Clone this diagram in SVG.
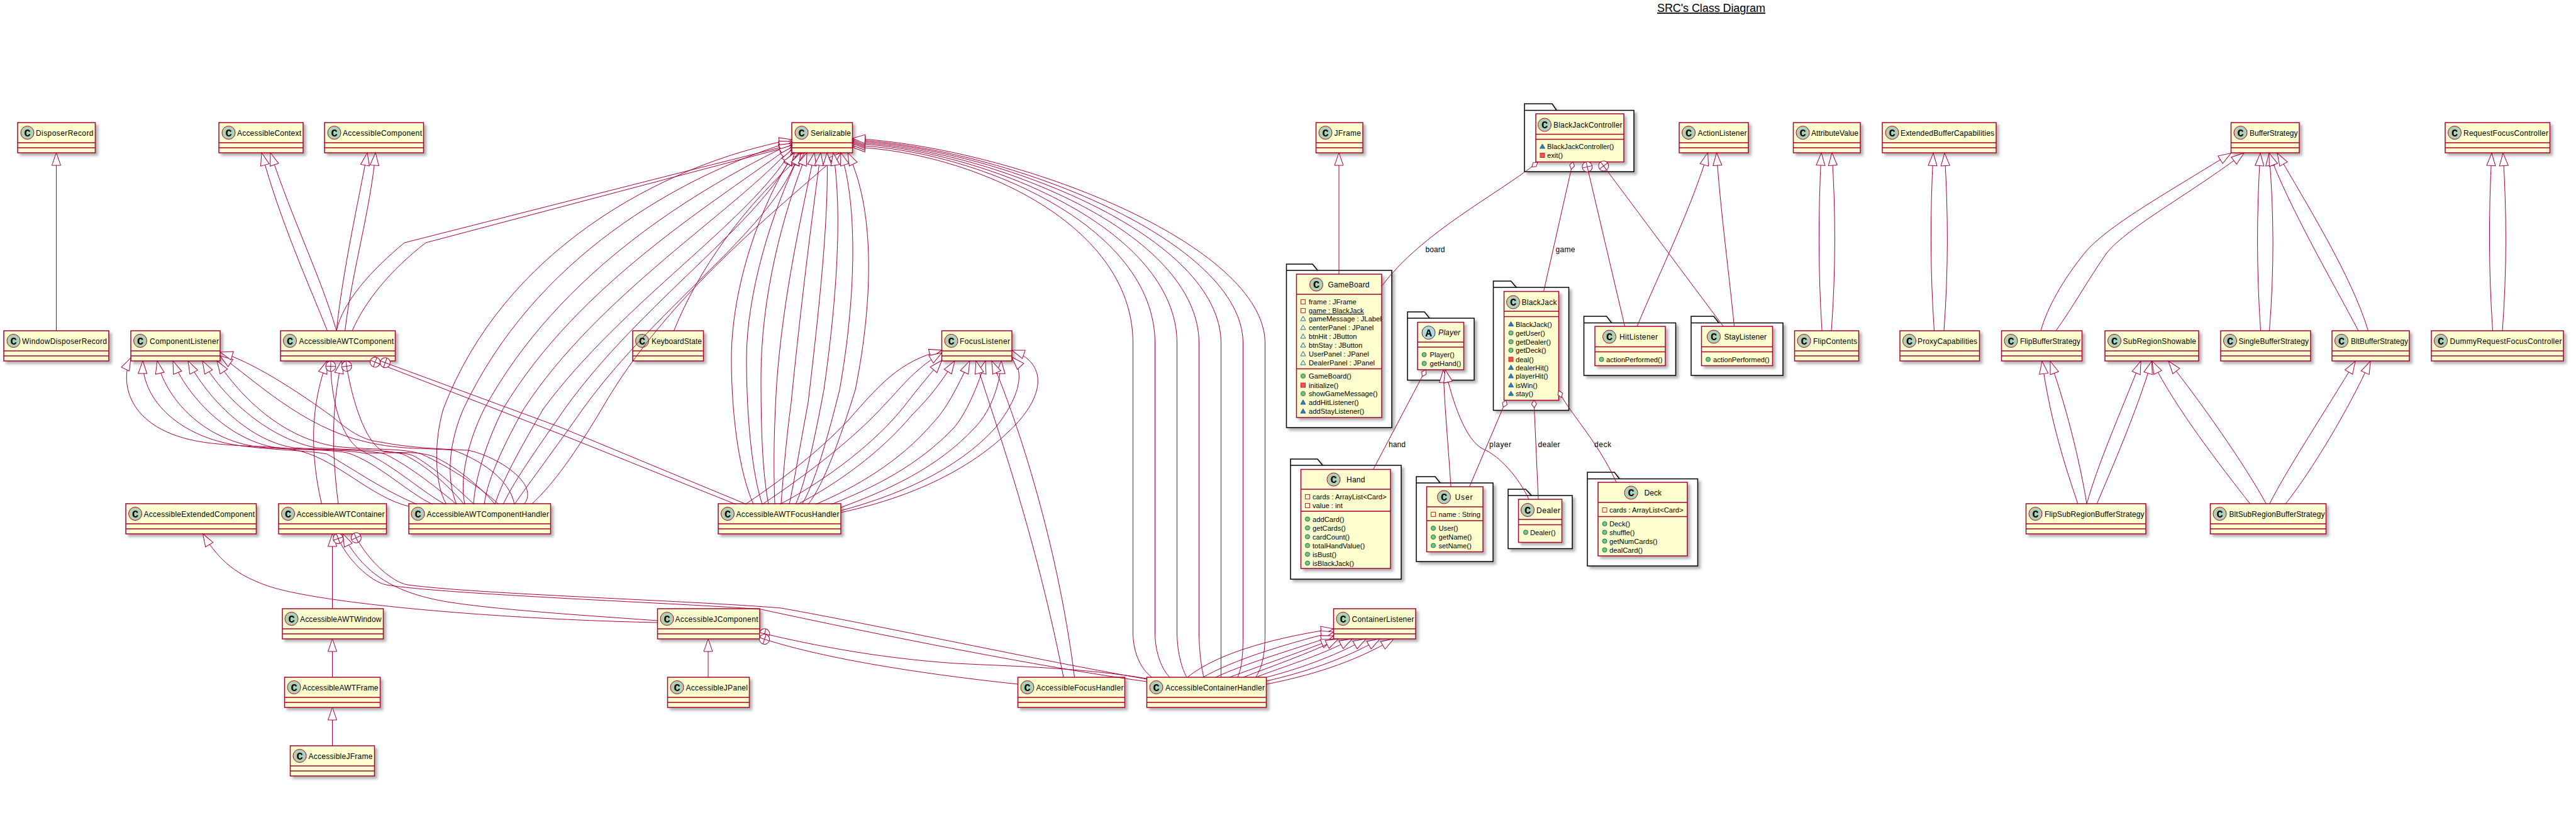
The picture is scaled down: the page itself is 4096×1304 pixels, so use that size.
<svg xmlns="http://www.w3.org/2000/svg" width="4096" height="1304" viewBox="0 0 4096 1304">
<style>
text{font-family:"Liberation Sans",Arial,sans-serif;font-size:11.2px;fill:#000;stroke:none}
text[textLength]{font-size:12px}
.b{fill:#FEFECE;stroke:#A80036;stroke-width:1.5;filter:url(#sh)}
.d{fill:none;stroke:#A80036;stroke-width:1.5}
.ci{fill:#ADD1B2;stroke:#A80036;stroke-width:1}
.ca{fill:#A9DCDF;stroke:#A80036;stroke-width:1}
.cl{font-family:"Liberation Mono",monospace;font-size:17px;font-weight:bold;text-anchor:middle}
.pk{fill:#fff;stroke:#000;stroke-width:1.5;filter:url(#sh)}
.e{fill:none;stroke:#A80036;stroke-width:1}
.x{marker-start:url(#ext)}
.n{marker-start:url(#nest)}
.a{marker-start:url(#agg)}
</style>
<defs>
<filter id="sh" x="-15%" y="-25%" width="140%" height="170%"><feDropShadow dx="4" dy="4" stdDeviation="2.2" flood-color="#000" flood-opacity="0.3"/></filter>
<marker id="ext" markerUnits="userSpaceOnUse" markerWidth="30" markerHeight="30" overflow="visible" orient="auto"><polygon points="0,0 20,-7 20,7" fill="#fff" stroke="#A80036"/></marker>
<marker id="nest" markerUnits="userSpaceOnUse" markerWidth="30" markerHeight="30" overflow="visible" orient="auto"><circle cx="8" cy="0" r="8" fill="#fff" stroke="#A80036"/><path d="M0,0H16M8,-8V8" fill="none" stroke="#A80036"/></marker>
<marker id="agg" markerUnits="userSpaceOnUse" markerWidth="30" markerHeight="30" overflow="visible" orient="auto"><polygon points="0,0 6,-4 12,0 6,4" fill="#fff" stroke="#A80036"/></marker>
<rect id="pf" x="-3.5" y="-3.5" width="7" height="7" fill="none" stroke="#C82930"/>
<rect id="pm" x="-3.5" y="-3.5" width="7" height="7" fill="#F24D5C" stroke="#C82930"/>
<polygon id="tf" points="0,-4 4,3 -4,3" fill="none" stroke="#1963A0"/>
<polygon id="tm" points="0,-4 4,3 -4,3" fill="#4177AF" stroke="#1963A0"/>
<circle id="cm" r="3.5" fill="#84BE84" stroke="#038048"/>
</defs>

<text id="title" x="2635" y="19" textLength="172" style="font-size:18px;text-decoration:underline">SRC's Class Diagram</text>

<g id="DisposerRecord"><rect class="b" x="28" y="195" width="123.5" height="48"/><path class="d" d="M28,227H151.5M28,235H151.5"/><circle class="ci" cx="43.5" cy="211" r="10.5"/><text class="cl" x="43.5" y="216.5">C</text><text x="57" y="215.5" textLength="91.5">DisposerRecord</text></g>
<g id="AccessibleContext"><rect class="b" x="348" y="195" width="134" height="48"/><path class="d" d="M348,227H482M348,235H482"/><circle class="ci" cx="363.5" cy="211" r="10.5"/><text class="cl" x="363.5" y="216.5">C</text><text x="377" y="215.5" textLength="102">AccessibleContext</text></g>
<g id="AccessibleComponent"><rect class="b" x="516" y="195" width="157.5" height="48"/><path class="d" d="M516,227H673.5M516,235H673.5"/><circle class="ci" cx="531.5" cy="211" r="10.5"/><text class="cl" x="531.5" y="216.5">C</text><text x="545" y="215.5" textLength="126">AccessibleComponent</text></g>
<g id="Serializable"><rect class="b" x="1259" y="195" width="96.5" height="48"/><path class="d" d="M1259,227H1355.5M1259,235H1355.5"/><circle class="ci" cx="1274.5" cy="211" r="10.5"/><text class="cl" x="1274.5" y="216.5">C</text><text x="1289" y="215.5" textLength="64">Serializable</text></g>
<g id="JFrame"><rect class="b" x="2092.5" y="195" width="74.5" height="48"/><path class="d" d="M2092.5,227H2167M2092.5,235H2167"/><circle class="ci" cx="2107.5" cy="211" r="10.5"/><text class="cl" x="2107.5" y="216.5">C</text><text x="2121.5" y="215.5" textLength="42.5">JFrame</text></g>
<g id="ActionListener"><rect class="b" x="2670" y="195" width="110" height="48"/><path class="d" d="M2670,227H2780M2670,235H2780"/><circle class="ci" cx="2685" cy="211" r="10.5"/><text class="cl" x="2685" y="216.5">C</text><text x="2699.5" y="215.5" textLength="78">ActionListener</text></g>
<g id="AttributeValue"><rect class="b" x="2851.5" y="195" width="106.5" height="48"/><path class="d" d="M2851.5,227H2958M2851.5,235H2958"/><circle class="ci" cx="2866.5" cy="211" r="10.5"/><text class="cl" x="2866.5" y="216.5">C</text><text x="2880" y="215.5" textLength="75">AttributeValue</text></g>
<g id="ExtendedBufferCapabilities"><rect class="b" x="2993" y="195" width="181" height="48"/><path class="d" d="M2993,227H3174M2993,235H3174"/><circle class="ci" cx="3008.5" cy="211" r="10.5"/><text class="cl" x="3008.5" y="216.5">C</text><text x="3022" y="215.5" textLength="149">ExtendedBufferCapabilities</text></g>
<g id="BufferStrategy"><rect class="b" x="3547.5" y="195" width="108.5" height="48"/><path class="d" d="M3547.5,227H3656M3547.5,235H3656"/><circle class="ci" cx="3562.5" cy="211" r="10.5"/><text class="cl" x="3562.5" y="216.5">C</text><text x="3577" y="215.5" textLength="76.5">BufferStrategy</text></g>
<g id="RequestFocusController"><rect class="b" x="3888" y="195" width="166.5" height="48"/><path class="d" d="M3888,227H4054.5M3888,235H4054.5"/><circle class="ci" cx="3903" cy="211" r="10.5"/><text class="cl" x="3903" y="216.5">C</text><text x="3917" y="215.5" textLength="135">RequestFocusController</text></g>

<g id="WindowDisposerRecord"><rect class="b" x="6" y="526" width="167" height="48"/><path class="d" d="M6,558H173M6,566H173"/><circle class="ci" cx="21.5" cy="542" r="10.5"/><text class="cl" x="21.5" y="547.5">C</text><text x="35" y="546.5" textLength="135">WindowDisposerRecord</text></g>
<g id="ComponentListener"><rect class="b" x="208" y="526" width="142" height="48"/><path class="d" d="M208,558H350M208,566H350"/><circle class="ci" cx="223" cy="542" r="10.5"/><text class="cl" x="223" y="547.5">C</text><text x="238" y="546.5" textLength="110">ComponentListener</text></g>
<g id="AccessibleAWTComponent"><rect class="b" x="446" y="526" width="182.5" height="48"/><path class="d" d="M446,558H628.5M446,566H628.5"/><circle class="ci" cx="461" cy="542" r="10.5"/><text class="cl" x="461" y="547.5">C</text><text x="475.5" y="546.5" textLength="150.5">AccessibleAWTComponent</text></g>
<g id="KeyboardState"><rect class="b" x="1006" y="526" width="112.5" height="48"/><path class="d" d="M1006,558H1118.5M1006,566H1118.5"/><circle class="ci" cx="1021" cy="542" r="10.5"/><text class="cl" x="1021" y="547.5">C</text><text x="1036" y="546.5" textLength="80">KeyboardState</text></g>
<g id="FocusListener"><rect class="b" x="1497.5" y="526" width="111.5" height="48"/><path class="d" d="M1497.5,558H1609M1497.5,566H1609"/><circle class="ci" cx="1512.5" cy="542" r="10.5"/><text class="cl" x="1512.5" y="547.5">C</text><text x="1526" y="546.5" textLength="80">FocusListener</text></g>
<g id="FlipContents"><rect class="b" x="2853.5" y="526" width="102" height="48"/><path class="d" d="M2853.5,558H2955.5M2853.5,566H2955.5"/><circle class="ci" cx="2868.5" cy="542" r="10.5"/><text class="cl" x="2868.5" y="547.5">C</text><text x="2883" y="546.5" textLength="70">FlipContents</text></g>
<g id="ProxyCapabilities"><rect class="b" x="3021" y="526" width="126.5" height="48"/><path class="d" d="M3021,558H3147.5M3021,566H3147.5"/><circle class="ci" cx="3036" cy="542" r="10.5"/><text class="cl" x="3036" y="547.5">C</text><text x="3049" y="546.5" textLength="95">ProxyCapabilities</text></g>
<g id="FlipBufferStrategy"><rect class="b" x="3182.5" y="526" width="128" height="48"/><path class="d" d="M3182.5,558H3310.5M3182.5,566H3310.5"/><circle class="ci" cx="3197.5" cy="542" r="10.5"/><text class="cl" x="3197.5" y="547.5">C</text><text x="3212" y="546.5" textLength="96">FlipBufferStrategy</text></g>
<g id="SubRegionShowable"><rect class="b" x="3347" y="526" width="149" height="48"/><path class="d" d="M3347,558H3496M3347,566H3496"/><circle class="ci" cx="3362" cy="542" r="10.5"/><text class="cl" x="3362" y="547.5">C</text><text x="3375.5" y="546.5" textLength="116.5">SubRegionShowable</text></g>
<g id="SingleBufferStrategy"><rect class="b" x="3531" y="526" width="143" height="48"/><path class="d" d="M3531,558H3674M3531,566H3674"/><circle class="ci" cx="3546" cy="542" r="10.5"/><text class="cl" x="3546" y="547.5">C</text><text x="3559.5" y="546.5" textLength="111.5">SingleBufferStrategy</text></g>
<g id="BltBufferStrategy"><rect class="b" x="3708" y="526" width="123" height="48"/><path class="d" d="M3708,558H3831M3708,566H3831"/><circle class="ci" cx="3723" cy="542" r="10.5"/><text class="cl" x="3723" y="547.5">C</text><text x="3738" y="546.5" textLength="91">BltBufferStrategy</text></g>
<g id="DummyRequestFocusController"><rect class="b" x="3866" y="526" width="210" height="48"/><path class="d" d="M3866,558H4076M3866,566H4076"/><circle class="ci" cx="3881" cy="542" r="10.5"/><text class="cl" x="3881" y="547.5">C</text><text x="3895.5" y="546.5" textLength="178">DummyRequestFocusController</text></g>

<g id="AccessibleExtendedComponent"><rect class="b" x="200" y="801" width="207.5" height="48"/><path class="d" d="M200,833H407.5M200,841H407.5"/><circle class="ci" cx="215" cy="817" r="10.5"/><text class="cl" x="215" y="822.5">C</text><text x="228.5" y="821.5" textLength="176.5">AccessibleExtendedComponent</text></g>
<g id="AccessibleAWTContainer"><rect class="b" x="443" y="801" width="171.5" height="48"/><path class="d" d="M443,833H614.5M443,841H614.5"/><circle class="ci" cx="458" cy="817" r="10.5"/><text class="cl" x="458" y="822.5">C</text><text x="471.5" y="821.5" textLength="140">AccessibleAWTContainer</text></g>
<g id="AccessibleAWTComponentHandler"><rect class="b" x="650" y="801" width="225.5" height="48"/><path class="d" d="M650,833H875.5M650,841H875.5"/><circle class="ci" cx="664.5" cy="817" r="10.5"/><text class="cl" x="664.5" y="822.5">C</text><text x="678.5" y="821.5" textLength="194.5">AccessibleAWTComponentHandler</text></g>
<g id="AccessibleAWTFocusHandler"><rect class="b" x="1142" y="801" width="195" height="48"/><path class="d" d="M1142,833H1337M1142,841H1337"/><circle class="ci" cx="1157" cy="817" r="10.5"/><text class="cl" x="1157" y="822.5">C</text><text x="1170.5" y="821.5" textLength="164">AccessibleAWTFocusHandler</text></g>
<g id="FlipSubRegionBufferStrategy"><rect class="b" x="3221.5" y="801" width="190.5" height="48"/><path class="d" d="M3221.5,833H3412M3221.5,841H3412"/><circle class="ci" cx="3236.5" cy="817" r="10.5"/><text class="cl" x="3236.5" y="822.5">C</text><text x="3251" y="821.5" textLength="158.5">FlipSubRegionBufferStrategy</text></g>
<g id="BltSubRegionBufferStrategy"><rect class="b" x="3514.5" y="801" width="184" height="48"/><path class="d" d="M3514.5,833H3698.5M3514.5,841H3698.5"/><circle class="ci" cx="3529.5" cy="817" r="10.5"/><text class="cl" x="3529.5" y="822.5">C</text><text x="3544.5" y="821.5" textLength="152">BltSubRegionBufferStrategy</text></g>

<g id="AccessibleAWTWindow"><rect class="b" x="449" y="968" width="160.5" height="48"/><path class="d" d="M449,1000H609.5M449,1008H609.5"/><circle class="ci" cx="463.5" cy="984" r="10.5"/><text class="cl" x="463.5" y="989.5">C</text><text x="477" y="988.5" textLength="129.5">AccessibleAWTWindow</text></g>
<g id="AccessibleJComponent"><rect class="b" x="1045.5" y="968" width="162.5" height="48"/><path class="d" d="M1045.5,1000H1208M1045.5,1008H1208"/><circle class="ci" cx="1060.5" cy="984" r="10.5"/><text class="cl" x="1060.5" y="989.5">C</text><text x="1073.5" y="988.5" textLength="132">AccessibleJComponent</text></g>
<g id="ContainerListener"><rect class="b" x="2120.5" y="968" width="130.5" height="48"/><path class="d" d="M2120.5,1000H2251M2120.5,1008H2251"/><circle class="ci" cx="2135.5" cy="984" r="10.5"/><text class="cl" x="2135.5" y="989.5">C</text><text x="2149.5" y="988.5" textLength="99">ContainerListener</text></g>

<g id="AccessibleAWTFrame"><rect class="b" x="452.5" y="1077" width="152" height="48"/><path class="d" d="M452.5,1109H604.5M452.5,1117H604.5"/><circle class="ci" cx="467.5" cy="1093" r="10.5"/><text class="cl" x="467.5" y="1098.5">C</text><text x="480.5" y="1097.5" textLength="121">AccessibleAWTFrame</text></g>
<g id="AccessibleJPanel"><rect class="b" x="1061.5" y="1077" width="130" height="48"/><path class="d" d="M1061.5,1109H1191.5M1061.5,1117H1191.5"/><circle class="ci" cx="1076.5" cy="1093" r="10.5"/><text class="cl" x="1076.5" y="1098.5">C</text><text x="1090.5" y="1097.5" textLength="98.5">AccessibleJPanel</text></g>
<g id="AccessibleFocusHandler"><rect class="b" x="1618.5" y="1077" width="170" height="48"/><path class="d" d="M1618.5,1109H1788.5M1618.5,1117H1788.5"/><circle class="ci" cx="1633.5" cy="1093" r="10.5"/><text class="cl" x="1633.5" y="1098.5">C</text><text x="1647.5" y="1097.5" textLength="139">AccessibleFocusHandler</text></g>
<g id="AccessibleContainerHandler"><rect class="b" x="1823.5" y="1077" width="190" height="48"/><path class="d" d="M1823.5,1109H2013.5M1823.5,1117H2013.5"/><circle class="ci" cx="1838.5" cy="1093" r="10.5"/><text class="cl" x="1838.5" y="1098.5">C</text><text x="1853" y="1097.5" textLength="158">AccessibleContainerHandler</text></g>
<g id="AccessibleJFrame"><rect class="b" x="461.5" y="1186" width="134" height="48"/><path class="d" d="M461.5,1218H595.5M461.5,1226H595.5"/><circle class="ci" cx="476.5" cy="1202" r="10.5"/><text class="cl" x="476.5" y="1207.5">C</text><text x="490.5" y="1206.5" textLength="102">AccessibleJFrame</text></g>

<g id="pkg-BlackJackController"><path class="pk" d="M2424,175.5V165H2468L2475,175.5H2598V273H2424Z"/><path class="d" style="stroke:#000" d="M2424,175.5H2475"/>
<g id="BlackJackController"><rect class="b" x="2442" y="181" width="140" height="76.5"/><path class="d" d="M2442,213.5H2582M2442,221.5H2582"/><circle class="ci" cx="2456" cy="198.5" r="10.5"/><text class="cl" x="2456" y="204">C</text><text x="2470" y="203" textLength="109.5">BlackJackController</text>
<use href="#tm" x="2452.5" y="233"/><text x="2460" y="237">BlackJackController()</text><use href="#pm" x="2452.5" y="247"/><text x="2460" y="251">exit()</text></g></g>

<g id="pkg-GameBoard"><path class="pk" d="M2045.5,430V420H2087L2095,430H2213V680H2045.5Z"/><path class="d" style="stroke:#000" d="M2045.5,430H2095"/>
<g id="GameBoard"><rect class="b" x="2061.5" y="436" width="135.5" height="228"/><path class="d" d="M2061.5,468H2197M2061.5,586.5H2197"/><circle class="ci" cx="2093" cy="452.5" r="10.5"/><text class="cl" x="2093" y="458">C</text><text x="2111.5" y="457" textLength="66">GameBoard</text>
<use href="#pf" x="2072" y="480"/><text x="2081" y="484">frame : JFrame</text>
<use href="#pf" x="2072" y="494"/><text x="2081" y="498" style="text-decoration:underline">game : BlackJack</text>
<use href="#tf" x="2072" y="507"/><text x="2081" y="511">gameMessage : JLabel</text>
<use href="#tf" x="2072" y="521"/><text x="2081" y="525">centerPanel : JPanel</text>
<use href="#tf" x="2072" y="535"/><text x="2081" y="539">btnHit : JButton</text>
<use href="#tf" x="2072" y="549"/><text x="2081" y="553">btnStay : JButton</text>
<use href="#tf" x="2072" y="563"/><text x="2081" y="567">UserPanel : JPanel</text>
<use href="#tf" x="2072" y="577"/><text x="2081" y="581">DealerPanel : JPanel</text>
<use href="#cm" x="2072" y="598"/><text x="2081" y="602">GameBoard()</text>
<use href="#pm" x="2072" y="612.5"/><text x="2081" y="616.5">initialize()</text>
<use href="#cm" x="2072" y="626"/><text x="2081" y="630">showGameMessage()</text>
<use href="#tm" x="2072" y="640"/><text x="2081" y="644">addHitListener()</text>
<use href="#tm" x="2072" y="654"/><text x="2081" y="658">addStayListener()</text></g></g>

<g id="pkg-Player"><path class="pk" d="M2238,506V496H2265L2273,506H2344V604.5H2238Z"/><path class="d" style="stroke:#000" d="M2238,506H2273"/>
<g id="Player"><rect class="b" x="2254" y="512.5" width="73.5" height="75.5"/><path class="d" d="M2254,544H2327.5M2254,552H2327.5"/><circle class="ca" cx="2271.5" cy="529" r="10.5"/><text class="cl" x="2271.5" y="534.5">A</text><text x="2287" y="533" textLength="35" font-style="italic">Player</text>
<use href="#cm" x="2264.5" y="564"/><text x="2273.5" y="568">Player()</text><use href="#cm" x="2264.5" y="578"/><text x="2273.5" y="582">getHand()</text></g></g>

<g id="pkg-BlackJack"><path class="pk" d="M2374.5,457V447H2402.5L2411,457H2494.5V652.5H2374.5Z"/><path class="d" style="stroke:#000" d="M2374.5,457H2411"/>
<g id="BlackJack"><rect class="b" x="2391.5" y="463.5" width="87" height="173"/><path class="d" d="M2391.5,495H2478.5M2391.5,503.5H2478.5"/><circle class="ci" cx="2406" cy="480.5" r="10.5"/><text class="cl" x="2406" y="486">C</text><text x="2419.5" y="485" textLength="56">BlackJack</text>
<use href="#tm" x="2402.5" y="515.5"/><text x="2410" y="519.5">BlackJack()</text>
<use href="#cm" x="2402.5" y="529.5"/><text x="2410" y="533.5">getUser()</text>
<use href="#cm" x="2402.5" y="543.5"/><text x="2410" y="547.5">getDealer()</text>
<use href="#cm" x="2402.5" y="557"/><text x="2410" y="561">getDeck()</text>
<use href="#pm" x="2402.5" y="571.5"/><text x="2410" y="575.5">deal()</text>
<use href="#tm" x="2402.5" y="584.5"/><text x="2410" y="588.5">dealerHit()</text>
<use href="#tm" x="2402.5" y="598"/><text x="2410" y="602">playerHit()</text>
<use href="#tm" x="2402.5" y="612.5"/><text x="2410" y="616.5">isWin()</text>
<use href="#tm" x="2402.5" y="626"/><text x="2410" y="630">stay()</text></g></g>

<g id="pkg-HitListener"><path class="pk" d="M2518.5,513.5V503H2554.5L2562.5,513.5H2664.5V597H2518.5Z"/><path class="d" style="stroke:#000" d="M2518.5,513.5H2562.5"/>
<g id="HitListener"><rect class="b" x="2536" y="519" width="112" height="62.5"/><path class="d" d="M2536,551.5H2648M2536,559.5H2648"/><circle class="ci" cx="2559" cy="535.5" r="10.5"/><text class="cl" x="2559" y="541">C</text><text x="2575" y="540" textLength="61">HitListener</text>
<use href="#cm" x="2546.5" y="571.5"/><text x="2554" y="575.5">actionPerformed()</text></g></g>

<g id="pkg-StayListener"><path class="pk" d="M2689,513.5V503H2725L2733,513.5H2835V597H2689Z"/><path class="d" style="stroke:#000" d="M2689,513.5H2733"/>
<g id="StayListener"><rect class="b" x="2705.5" y="519" width="113" height="62.5"/><path class="d" d="M2705.5,551.5H2818.5M2705.5,559.5H2818.5"/><circle class="ci" cx="2725" cy="535.5" r="10.5"/><text class="cl" x="2725" y="541">C</text><text x="2741.5" y="540" textLength="67.5">StayListener</text>
<use href="#cm" x="2716" y="571.5"/><text x="2724" y="575.5">actionPerformed()</text></g></g>

<g id="pkg-Hand"><path class="pk" d="M2052,740V730H2095L2103,740H2228V921H2052Z"/><path class="d" style="stroke:#000" d="M2052,740H2103"/>
<g id="Hand"><rect class="b" x="2068.5" y="746.5" width="142.5" height="157.5"/><path class="d" d="M2068.5,778H2211M2068.5,813H2211"/><circle class="ci" cx="2120.5" cy="762.5" r="10.5"/><text class="cl" x="2120.5" y="768">C</text><text x="2141" y="767" textLength="29.5">Hand</text>
<use href="#pf" x="2079" y="790"/><text x="2087" y="794">cards : ArrayList&lt;Card&gt;</text>
<use href="#pf" x="2079" y="804"/><text x="2087" y="808">value : int</text>
<use href="#cm" x="2079" y="825.5"/><text x="2087" y="829.5">addCard()</text>
<use href="#cm" x="2079" y="839.5"/><text x="2087" y="843.5">getCards()</text>
<use href="#cm" x="2079" y="853.5"/><text x="2087" y="857.5">cardCount()</text>
<use href="#cm" x="2079" y="867.5"/><text x="2087" y="871.5">totalHandValue()</text>
<use href="#cm" x="2079" y="881.5"/><text x="2087" y="885.5">isBust()</text>
<use href="#cm" x="2079" y="895.5"/><text x="2087" y="899.5">isBlackJack()</text></g></g>

<g id="pkg-User"><path class="pk" d="M2252,768V758H2282L2290,768H2374V893H2252Z"/><path class="d" style="stroke:#000" d="M2252,768H2290"/>
<g id="User"><rect class="b" x="2268.5" y="774" width="89.5" height="103.5"/><path class="d" d="M2268.5,806H2358M2268.5,828H2358"/><circle class="ci" cx="2296" cy="790.5" r="10.5"/><text class="cl" x="2296" y="796">C</text><text x="2313.5" y="795" textLength="28">User</text>
<use href="#pf" x="2279" y="818"/><text x="2287.5" y="822">name : String</text>
<use href="#cm" x="2279" y="840"/><text x="2287.5" y="844">User()</text>
<use href="#cm" x="2279" y="854"/><text x="2287.5" y="858">getName()</text>
<use href="#cm" x="2279" y="867.5"/><text x="2287.5" y="871.5">setName()</text></g></g>

<g id="pkg-Dealer"><path class="pk" d="M2398,788V778H2426L2435,788H2500V872.5H2398Z"/><path class="d" style="stroke:#000" d="M2398,788H2435"/>
<g id="Dealer"><rect class="b" x="2414.5" y="794" width="69" height="68.5"/><path class="d" d="M2414.5,826H2483.5M2414.5,834.5H2483.5"/><circle class="ci" cx="2429" cy="811" r="10.5"/><text class="cl" x="2429" y="816.5">C</text><text x="2443" y="815.5" textLength="38">Dealer</text>
<use href="#cm" x="2426" y="846.5"/><text x="2433" y="850.5">Dealer()</text></g></g>

<g id="pkg-Deck"><path class="pk" d="M2524,761.5V751H2567L2575,761.5H2699.5V900H2524Z"/><path class="d" style="stroke:#000" d="M2524,761.5H2575"/>
<g id="Deck"><rect class="b" x="2541" y="767" width="142" height="117"/><path class="d" d="M2541,799H2683M2541,821.5H2683"/><circle class="ci" cx="2593.5" cy="783.5" r="10.5"/><text class="cl" x="2593.5" y="789">C</text><text x="2614.5" y="788" textLength="27.5">Deck</text>
<use href="#pf" x="2551.5" y="811"/><text x="2559" y="815">cards : ArrayList&lt;Card&gt;</text>
<use href="#cm" x="2551.5" y="833"/><text x="2559" y="837">Deck()</text>
<use href="#cm" x="2551.5" y="846.5"/><text x="2559" y="850.5">shuffle()</text>
<use href="#cm" x="2551.5" y="860.5"/><text x="2559" y="864.5">getNumCards()</text>
<use href="#cm" x="2551.5" y="874.5"/><text x="2559" y="878.5">dealCard()</text></g></g>

<g id="connectors" class="e">
<g id="simple">
<path class="x" d="M89.5,243V526"/>
<path class="x" d="M416,243C445,350 490,450 520.5,526"/>
<path class="x" d="M430,243C465,350 510,440 535,526"/>
<path class="x" d="M584,243C570,320 545,430 535,526"/>
<path class="x" d="M597,243C590,330 560,430 548.5,526"/>
<path class="x" d="M528.5,849V968"/>
<path class="x" d="M528.5,1016V1077"/>
<path class="x" d="M528.5,1125V1186"/>
<path class="x" d="M1126,1016V1077"/>
<path class="x" d="M2129,243V436"/>
<path class="x" d="M520,574C500,630 488,700 511.5,802"/>
<path class="x" d="M543,574C530,640 525,700 538,802"/>
<path class="x" d="M1279,243C1180,330 1110,430 1071.5,526"/>
</g>
<g id="component-listener">
<path class="x" d="M208,569C190,606 200,690 337,705C400,712 440,708 480,718C540,735 590,790 649,805"/>
<path class="x" d="M227,574C226,640 290,695 377,708C430,716 490,716 520,722C560,745 610,780 663,802"/>
<path class="x" d="M250,574C262,630 320,700 413,711C470,716 520,714 552,720C600,735 650,785 688,802"/>
<path class="x" d="M275,574C295,625 360,700 440,712C500,716 550,714 585,722C625,740 675,785 708,802"/>
<path class="x" d="M299,574C325,625 390,700 467,712C520,716 580,714 612,722C650,740 700,780 726,802"/>
<path class="x" d="M322,574C350,625 420,695 502,712C560,716 610,714 640,722C680,740 720,780 738,802"/>
<path class="x" d="M345,574C375,620 440,695 534,710C590,716 640,712 670,722C720,745 770,780 793,802"/>
<path class="x" d="M350,566C400,600 480,680 583,703C640,716 680,712 721,716C760,730 810,760 818,802"/>
<path class="x" d="M350,560C400,575 470,620 529,663C560,690 580,700 605,703C650,712 700,714 744,716C790,725 860,770 833,802"/>
</g>
<g id="serializable-handler">
<path class="x" d="M1259,230L1100,270L643,386C590,430 545,480 535,526"/>
<path class="x" d="M1259,232L677,386C620,430 580,480 560,526"/>
<path class="x" d="M1259,222C1050,262 800,400 705,650C690,700 690,770 710,802"/>
<path class="x" d="M1259,225C1080,280 850,410 737,650C715,700 708,760 726,802"/>
<path class="x" d="M1259,228C1110,300 890,430 770,650C745,700 730,760 739,802"/>
<path class="x" d="M1259,231C1140,320 920,450 800,650C775,700 755,760 753,802"/>
<path class="x" d="M1259,234C1170,335 950,470 833,650C805,700 775,760 770,802"/>
<path class="x" d="M1259,238C1195,350 990,480 864,650C835,700 800,760 787,802"/>
<path class="x" d="M1261,243C1215,350 1020,480 898,650C860,705 820,760 800,802"/>
<path class="x" d="M1270,243C1235,360 1050,480 927,650C885,710 840,770 818,802"/>
<path class="x" d="M1337,243C1240,330 1060,470 957,650C915,720 880,770 845,802"/>
</g>
<g id="serializable-focus">
<path class="x" d="M1263,243C1200,340 1163,470 1163,570C1163,660 1175,750 1198,802"/>
<path class="x" d="M1273,243C1225,340 1187,470 1187,570C1187,660 1195,750 1212,802"/>
<path class="x" d="M1283,243C1245,340 1210,470 1210,600C1210,680 1212,750 1222,802"/>
<path class="x" d="M1295,243C1275,340 1245,470 1235,610C1230,690 1230,750 1232,802"/>
<path class="x" d="M1305,243C1292,340 1275,470 1258,640C1250,700 1245,760 1242,802"/>
<path class="x" d="M1315,243C1318,340 1305,470 1285,640C1272,710 1262,770 1255,802"/>
<path class="x" d="M1325,243C1340,340 1330,480 1310,620C1295,700 1280,770 1265,802"/>
<path class="x" d="M1337,243C1365,330 1360,480 1335,620C1315,700 1295,770 1275,802"/>
<path class="x" d="M1348,243C1390,330 1390,470 1360,620C1335,700 1310,770 1285,802"/>
</g>
<g id="serializable-container">
<path class="x" d="M1355.5,234C1535,240 1801.5,350 1801.5,546V1007C1802,1040 1815,1065 1831.5,1077"/>
<path class="x" d="M1355.5,231C1550,238 1836.5,357 1836.5,546V1007C1837,1040 1848,1065 1860,1077"/>
<path class="x" d="M1355.5,228C1565,238 1871.5,364 1871.5,546V1007C1872,1040 1880,1065 1887,1077"/>
<path class="x" d="M1355.5,226C1578,237 1906.5,370 1906.5,546V1007C1907,1040 1911,1065 1914,1077"/>
<path class="x" d="M1355.5,224C1592,236 1941.5,377 1941.5,546V1077"/>
<path class="x" d="M1355.5,222C1606,236 1976.5,384 1976.5,546V1007C1976.5,1040 1975,1060 1968,1077"/>
<path class="x" d="M1355.5,220C1620,235 2011.5,390 2011.5,546V1007C2011.5,1040 2007,1062 1996.5,1077"/>
</g>
<g id="focus-listener">
<path class="x" d="M1497.5,557C1430,575 1400,610 1350,667C1300,720 1240,765 1185,802"/>
<path class="x" d="M1497.5,561C1450,590 1430,620 1407,643C1360,695 1290,750 1212,802"/>
<path class="x" d="M1497.5,573C1470,605 1450,630 1437,647C1395,700 1320,760 1240,802"/>
<path class="x" d="M1518,574C1495,610 1480,630 1450,660C1400,720 1330,770 1268,802"/>
<path class="x" d="M1542,574C1520,620 1505,650 1483,673C1430,735 1360,775 1297,802"/>
<path class="x" d="M1567,574C1550,630 1530,665 1517,680C1460,740 1390,775 1322,802"/>
<path class="x" d="M1592,574C1590,620 1570,660 1550,680C1490,745 1410,780 1337,807"/>
<path class="x" d="M1609,568C1625,585 1630,620 1583,680C1520,750 1420,790 1337,812"/>
<path class="x" d="M1609,557C1660,575 1665,620 1617,673C1540,755 1430,795 1337,815"/>
<path class="x" d="M1552,574C1570,640 1640,820 1691,1077"/>
<path class="x" d="M1577,574C1610,650 1680,850 1708.5,1077"/>
</g>
<g id="container-listener">
<path class="x" d="M2120.5,1000C2040,1012 1940,1035 1888,1077"/>
<path class="x" d="M2120.5,1005C2040,1025 1960,1050 1913,1077"/>
<path class="x" d="M2120.5,1011C2050,1035 1980,1055 1933,1077"/>
<path class="x" d="M2120.5,1016C2060,1040 2000,1060 1955,1077"/>
<path class="x" d="M2128,1016C2080,1040 2020,1060 1977,1077"/>
<path class="x" d="M2150,1016C2095,1045 2040,1060 1997,1077"/>
<path class="x" d="M2172,1016C2120,1045 2060,1065 2014,1077"/>
<path class="x" d="M2194,1016C2135,1050 2070,1070 2014,1083"/>
<path class="x" d="M2216,1016C2150,1055 2080,1075 2014,1088"/>
</g>
<g id="nesting">
<path class="n" d="M526,574.5C525,625 540,705 582,720C610,722 640,716 660,726C700,750 735,785 754,802"/>
<path class="n" d="M550,574.5C558,630 580,705 610,718C640,722 660,716 690,726C730,745 770,780 787,802"/>
<path class="n" d="M589,573L890,690L1170,802"/>
<path class="n" d="M605,574L890,679L1187,802"/>
<path class="x" d="M545,849C580,920 640,945 711,957C790,970 950,980 1045.5,987"/>
<path class="x" d="M322.5,849C350,895 380,915 421,930C500,960 800,985 1045.5,990"/>
<path class="n" d="M535,849C550,890 590,925 614,930C700,945 1100,960 1210,969C1400,1010 1650,1060 1823.5,1084"/>
<path class="n" d="M563,848C580,885 620,925 648,930C760,945 1100,955 1242,967C1400,995 1650,1050 1823.5,1080"/>
<path class="n" d="M1208,1006C1350,1040 1450,1050 1520,1055C1620,1060 1720,1062 1823.5,1079"/>
<path class="n" d="M1208,1014C1300,1045 1450,1070 1618.5,1088"/>
</g>
<g id="blackjack">
<path class="a" d="M2445,258C2380,310 2260,370 2197,455"/>
<text x="2266.5" y="401" textLength="31">board</text>
<path class="a" d="M2501,257.5L2454.5,463.5"/>
<text x="2473.5" y="401" textLength="31">game</text>
<path class="n" d="M2522,257.5L2583.5,519"/>
<path class="n" d="M2545,257.5L2740,519"/>
<path class="x" d="M2715.5,243C2690,330 2640,430 2603,519"/>
<path class="x" d="M2729.5,243C2735,330 2750,440 2757.5,519"/>
<path class="a" d="M2267,588L2183.5,746.5"/>
<text x="2208" y="711" textLength="27">hand</text>
<path class="x" d="M2295,588C2297,650 2303,710 2307,774"/>
<path class="x" d="M2298,588C2310,640 2330,700 2358,714C2385,725 2415,760 2431,794"/>
<path class="a" d="M2395,636.5L2336.5,774"/>
<text x="2368" y="711" textLength="35">player</text>
<path class="a" d="M2439,636.5L2446,794"/>
<text x="2445.5" y="711" textLength="35">dealer</text>
<path class="a" d="M2478.5,621C2490,650 2540,700 2570,767"/>
<text x="2535" y="711" textLength="27">deck</text>
</g>
<g id="buffers">
<path class="x" d="M2896,243C2891,340 2891,430 2897,526"/>
<path class="x" d="M2913,243C2919,340 2919,430 2912,526"/>
<path class="x" d="M3074,243.5C3069,340 3069,430 3075.5,526"/>
<path class="x" d="M3092,243.5C3098,340 3098,430 3091,526"/>
<path class="x" d="M3547.5,243.5C3440,310 3350,360 3315,402C3280,445 3255,490 3245,526"/>
<path class="x" d="M3568,243.5C3480,310 3385,360 3350,402C3320,445 3295,490 3269,526"/>
<path class="x" d="M3594,243.5C3588,340 3588,430 3594.5,526"/>
<path class="x" d="M3608,243.5C3616,340 3616,430 3608.5,526"/>
<path class="x" d="M3608,243.5C3640,330 3710,450 3750,526"/>
<path class="x" d="M3621,243.5C3665,320 3740,440 3765.5,526"/>
<path class="x" d="M3247,574.5C3260,670 3285,745 3304,801.5"/>
<path class="x" d="M3260,574.5C3290,660 3310,750 3318,801.5"/>
<path class="x" d="M3404,574.5C3370,660 3335,740 3318,801.5"/>
<path class="x" d="M3421.5,574.5C3395,660 3360,740 3334,801.5"/>
<path class="x" d="M3422,574.5C3460,650 3530,740 3578,801.5"/>
<path class="x" d="M3448,574.5C3500,640 3570,740 3603.5,801.5"/>
<path class="x" d="M3745,574.5C3700,650 3640,740 3608.5,801.5"/>
<path class="x" d="M3769,574.5C3735,650 3675,750 3634,801.5"/>
<path class="x" d="M3962,243.5C3957,340 3957,430 3963.5,526"/>
<path class="x" d="M3980,243.5C3986,340 3986,430 3979,526"/>
</g>
</g>
</svg>
